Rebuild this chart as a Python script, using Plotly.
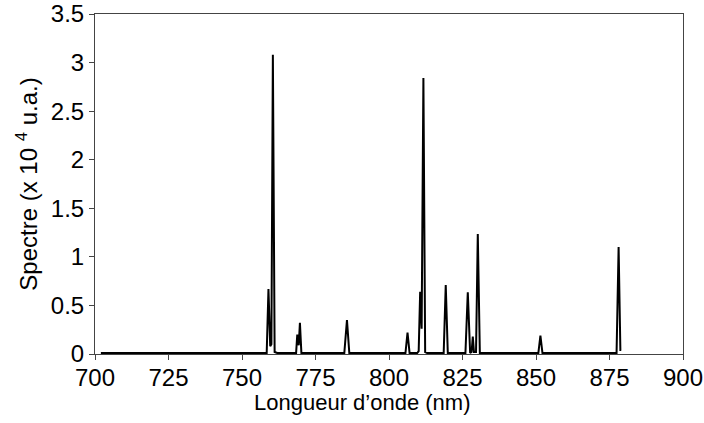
import plotly.graph_objects as go

# Wavelength (nm) and spectrum (x 10^4 a.u.)
wavelength = [702.0, 730.0, 757.0, 758.4, 759.0, 759.6, 760.0, 760.5, 761.1, 762.0,
              767.5, 768.4, 768.8, 769.3, 769.7, 770.2, 771.0,
              784.8, 785.7, 786.5, 787.0,
              805.6, 806.3, 807.0, 809.6, 810.1, 810.6, 811.1, 811.7, 812.3, 813.0,
              818.6, 819.3, 820.0, 820.5,
              826.0, 826.8, 827.6, 828.1, 828.5, 828.9, 829.6, 830.2, 830.9, 832.0,
              850.8, 851.5, 852.2, 852.7,
              877.4, 878.1, 878.7, 879.0]
spectre = [0.01, 0.01, 0.01, 0.01, 0.67, 0.08, 0.10, 3.08, 0.02, 0.01,
           0.01, 0.01, 0.20, 0.09, 0.32, 0.01, 0.01,
           0.01, 0.35, 0.01, 0.01,
           0.01, 0.22, 0.01, 0.01, 0.03, 0.64, 0.26, 2.84, 0.02, 0.01,
           0.01, 0.71, 0.01, 0.01,
           0.01, 0.635, 0.01, 0.02, 0.18, 0.02, 0.02, 1.235, 0.01, 0.01,
           0.01, 0.19, 0.01, 0.01,
           0.01, 1.10, 0.04, 0.04]

x_ticks = [700, 725, 750, 775, 800, 825, 850, 875, 900]
y_ticks = [0, 0.5, 1, 1.5, 2, 2.5, 3, 3.5]
y_tick_labels = ["0", "0.5", "1", "1.5", "2", "2.5", "3", "3.5"]
x_title = "Longueur d’onde (nm)"
y_title = "Spectre (x 10 <sup>4</sup> u.a.)"

fig = go.Figure(go.Scatter(x=wavelength, y=spectre, mode="lines",
                           line=dict(color="black", width=2), showlegend=False))

fam = "Liberation Sans, Arial, sans-serif"
tick_font = dict(family=fam, size=24, color="black")
fig.update_layout(
    width=704, height=423,
    margin=dict(l=95, r=21, t=14, b=69, autoexpand=False),
    paper_bgcolor="white", plot_bgcolor="white",
    font=tick_font,
)
fig.update_xaxes(range=[700, 900], tickvals=x_ticks, ticks="outside", ticklen=5,
                 tickcolor="#444", showline=True, linecolor="#444", linewidth=1,
                 mirror=True, showgrid=False, zeroline=False, automargin=False,
                 tickfont=tick_font, ticklabelstandoff=-3)
fig.update_yaxes(range=[0, 3.5], tickvals=y_ticks, ticktext=y_tick_labels,
                 ticks="outside", ticklen=5, tickcolor="#444", showline=True,
                 linecolor="#444", linewidth=1, mirror=True, showgrid=False,
                 zeroline=False, automargin=False, tickfont=tick_font,
                 title=dict(text=y_title, standoff=6,
                            font=dict(family=fam, size=24, color="black")))
fig.add_annotation(text=x_title, xref="paper", yref="paper", x=0.454, y=0,
                   xanchor="center", yanchor="middle", yshift=-48, showarrow=False,
                   font=dict(family=fam, size=22, color="black"))

fig.write_html("out.html", config={"displayModeBar": False},
               post_script="document.body.style.margin='0';document.body.style.overflow='hidden';")
